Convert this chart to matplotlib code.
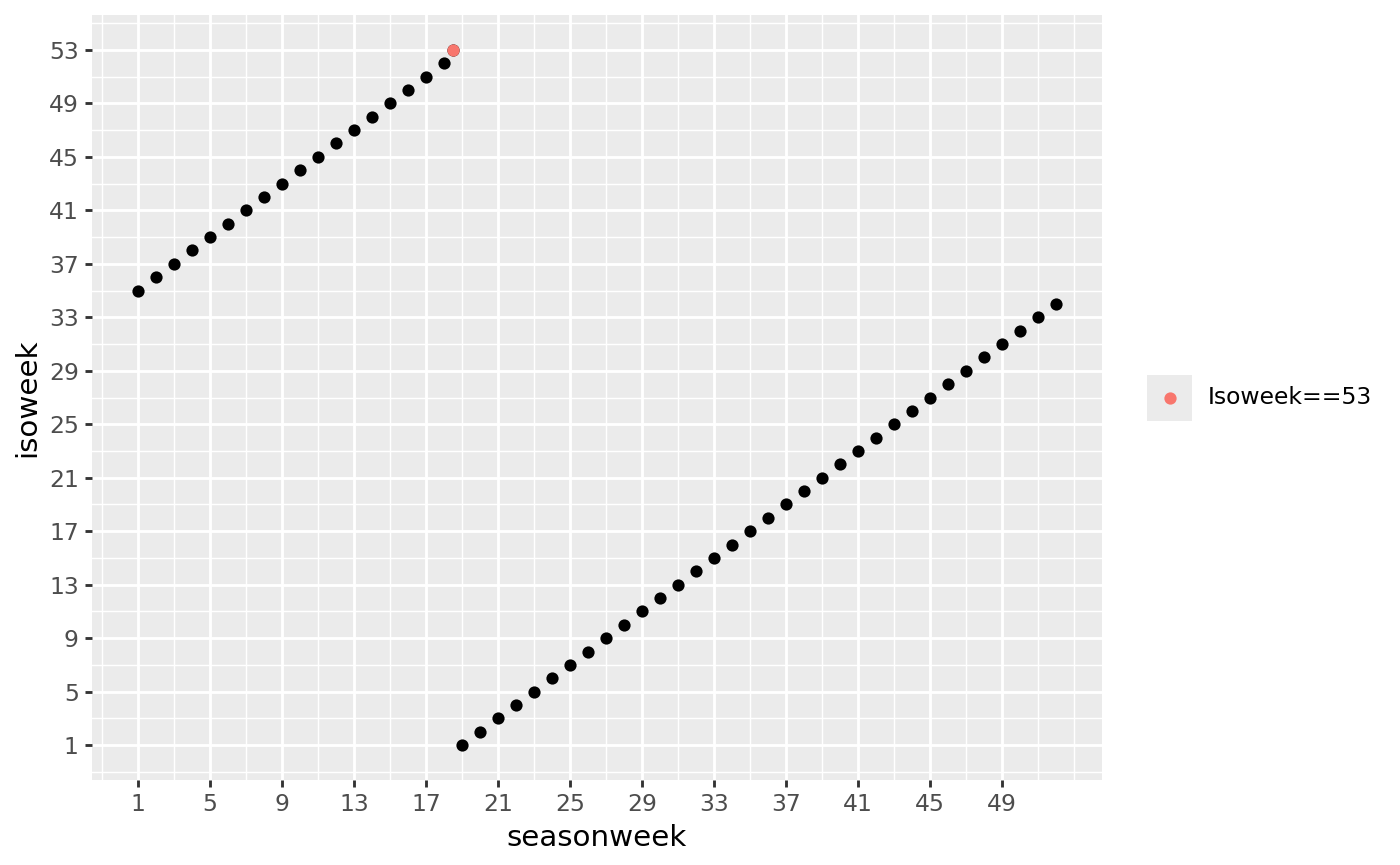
import matplotlib
matplotlib.use("Agg")
import matplotlib.pyplot as plt
from matplotlib.patches import Rectangle
from matplotlib.lines import Line2D

# data: season week vs iso week
seasonweek = [1, 2, 3, 4, 5, 6, 7, 8, 9, 10, 11, 12, 13, 14, 15, 16, 17, 18,
              18.5,
              19, 20, 21, 22, 23, 24, 25, 26, 27, 28, 29, 30, 31, 32, 33, 34, 35,
              36, 37, 38, 39, 40, 41, 42, 43, 44, 45, 46, 47, 48, 49, 50, 51, 52]
isoweek = [35, 36, 37, 38, 39, 40, 41, 42, 43, 44, 45, 46, 47, 48, 49, 50, 51, 52,
           53,
           1, 2, 3, 4, 5, 6, 7, 8, 9, 10, 11, 12, 13, 14, 15, 16, 17,
           18, 19, 20, 21, 22, 23, 24, 25, 26, 27, 28, 29, 30, 31, 32, 33, 34]
highlight_label = "Isoweek==53"
highlight_value = 53

x_ticks = [1, 5, 9, 13, 17, 21, 25, 29, 33, 37, 41, 45, 49]
y_ticks = [1, 5, 9, 13, 17, 21, 25, 29, 33, 37, 41, 45, 49, 53]
x_minor = [-1, 3, 7, 11, 15, 19, 23, 27, 31, 35, 39, 43, 47, 51, 53]
y_minor = [-1, 3, 7, 11, 15, 19, 23, 27, 31, 35, 39, 43, 47, 51, 55]

W, H = 1400, 865
DPI = 192
fig = plt.figure(figsize=(W / DPI, H / DPI), dpi=DPI)

# panel position in pixels
pl, pr, pt, pb = 92, 1102, 15, 780
ax = fig.add_axes([pl / W, (H - pb) / H, (pr - pl) / W, (pb - pt) / H])
ax.set_facecolor("#EBEBEB")
for s in ax.spines.values():
    s.set_visible(False)

def expand(lo, hi, f=0.05):
    d = (hi - lo) * f
    return lo - d, hi + d

ax.set_xlim(*expand(min(seasonweek), max(seasonweek)))
ax.set_ylim(*expand(min(isoweek), max(isoweek)))

for v in x_minor:
    ax.axvline(v, color="white", lw=0.53, zorder=0.5)
for v in y_minor:
    ax.axhline(v, color="white", lw=0.53, zorder=0.5)
for v in x_ticks:
    ax.axvline(v, color="white", lw=1.07, zorder=0.6)
for v in y_ticks:
    ax.axhline(v, color="white", lw=1.07, zorder=0.6)

ax.scatter(seasonweek, isoweek, s=21, color="black", linewidths=0, zorder=2)
hx = [x for x, y in zip(seasonweek, isoweek) if y == highlight_value]
hy = [y for y in isoweek if y == highlight_value]
ax.scatter(hx, hy, s=21, color="#F8766D", linewidths=0, zorder=3)

ax.set_xticks(x_ticks)
ax.set_yticks(y_ticks)
ax.tick_params(axis="both", which="major", length=2.75, width=1.07,
               color="#333333", labelcolor="#4D4D4D", labelsize=8.8, pad=2.2)
ax.set_xlabel("seasonweek", fontsize=11, color="black", labelpad=2.75)
ax.set_ylabel("isoweek", fontsize=11, color="black", labelpad=2.75)

# legend drawn by hand, ggplot style key
kx0, ky0, kx1, ky1 = 1147, 375, 1192, 421
fig.patches.append(Rectangle((kx0 / W, (H - ky1) / H), (kx1 - kx0) / W, (ky1 - ky0) / H,
                             transform=fig.transFigure, facecolor="#EBEBEB",
                             edgecolor="none"))
fig.lines.append(Line2D([(kx0 + kx1) / 2 / W], [(H - (ky0 + ky1) / 2) / H],
                        transform=fig.transFigure, marker="o", markersize=4.6,
                        markerfacecolor="#F8766D", markeredgewidth=0, linestyle="none"))
fig.text(1208 / W, (H - 398) / H, highlight_label, fontsize=8.8, color="black",
         va="center", ha="left")

fig.savefig("out.png", dpi=DPI)
